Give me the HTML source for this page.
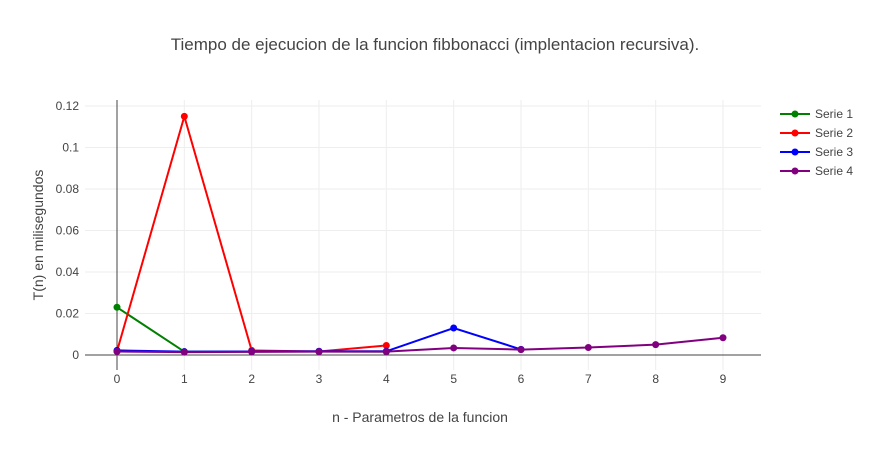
<!DOCTYPE html>
<html><head><meta charset="utf-8"><style>
body{margin:0;background:#fff;font-family:"Liberation Sans",sans-serif;}
svg text{font-family:"Liberation Sans",sans-serif;}
</style></head><body>
<svg width="871" height="450">
<rect width="871" height="450" fill="#fff"/>
<text x="435" y="50" text-anchor="middle" font-size="17" fill="#444">Tiempo de ejecucion de la funcion fibbonacci (implentacion recursiva).</text>
<g id="grid"></g><g id="axes"></g><g id="series"></g><g id="legend"></g>
<text x="420" y="422" text-anchor="middle" font-size="14" fill="#444">n - Parametros de la funcion</text>
<text transform="translate(43,235) rotate(-90)" text-anchor="middle" font-size="14" fill="#444">T(n) en milisegundos</text>
</svg>
<script>
const xTicks=[0,1,2,3,4,5,6,7,8,9];
const yTicks=[0,0.02,0.04,0.06,0.08,0.1,0.12];
const yTickLabels=["0","0.02","0.04","0.06","0.08","0.1","0.12"];
const seriesNames=["Serie 1","Serie 2","Serie 3","Serie 4"];
const seriesColors=["#008000","#ff0000","#0000ff","#800080"];
const serie1=[0.023,0.0016,0.0017,0.0017,0.0016];
const serie2=[0.0018,0.115,0.0022,0.0017,0.0046];
const serie3=[0.0022,0.0016,0.0017,0.0018,0.0018,0.013,0.0027];
const serie4=[0.0017,0.0014,0.0015,0.0016,0.0016,0.0034,0.0026,0.0036,0.005,0.0083];
const allSeries=[serie1,serie2,serie3,serie4];
const NS="http://www.w3.org/2000/svg";
const X=v=>117+v*(723-117)/9;
const Y=v=>355-v*(355-106)/0.12;
function mk(tag,attrs,parent){const e=document.createElementNS(NS,tag);for(const k in attrs)e.setAttribute(k,attrs[k]);parent.appendChild(e);return e;}
const grid=document.getElementById('grid'),axes=document.getElementById('axes'),ser=document.getElementById('series'),leg=document.getElementById('legend');
xTicks.forEach(t=>{
 const l=mk('line',{x1:X(t),x2:X(t),y1:100,y2:370,stroke:'#eee'},grid);
 
 
 const tx=mk('text',{x:X(t),y:383,'text-anchor':'middle','font-size':12,fill:'#444'},axes);
 tx.textContent=t;
 
 
});
yTicks.forEach((t,i)=>{
 const l=mk('line',{x1:85,x2:761,y1:Y(t),y2:Y(t),stroke:'#eee'},grid);
 
 
 const tx=mk('text',{x:79,y:Y(t)+4,'text-anchor':'end','font-size':12,fill:'#444'},axes);
 tx.textContent=yTickLabels[i];
 
 
});
const za=mk('line',{x1:85,x2:761,y1:Y(0),y2:Y(0),stroke:'#444'},axes);


const zb=mk('line',{x1:X(0),x2:X(0),y1:100,y2:370,stroke:'#444'},axes);


allSeries.forEach((s,si)=>{
 const g=mk('g',{},ser);
 
 
 const p=mk('polyline',{points:s.map((v,i)=>X(i)+','+Y(v)).join(' '),fill:'none',stroke:seriesColors[si],'stroke-width':2},g);
 
 
 s.forEach((v,i)=>{
  const c=mk('circle',{cx:X(i),cy:Y(v),r:3.5,fill:seriesColors[si]},g);
  
  
 });
 const ly=114+si*19;
 const lg=mk('g',{},leg);
 
 
 mk('line',{x1:780,x2:810,y1:ly,y2:ly,stroke:seriesColors[si],'stroke-width':2},lg);
 mk('circle',{cx:795,cy:ly,r:3.5,fill:seriesColors[si]},lg);
 const t=mk('text',{x:815,y:ly+4,'font-size':12,fill:'#444'},lg);
 t.textContent=seriesNames[si];
});
</script>
</body></html>
